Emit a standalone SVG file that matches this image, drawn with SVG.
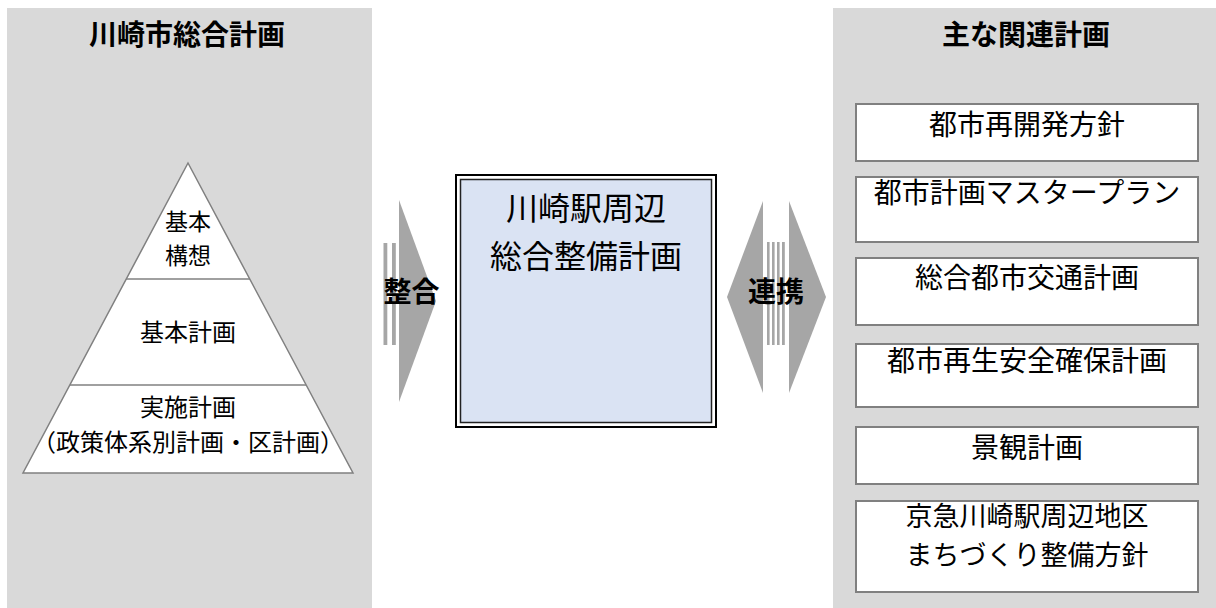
<svg xmlns="http://www.w3.org/2000/svg" width="1216" height="608" viewBox="0 0 1216 608">
<style>
text{font-family:"Noto Sans CJK JP","Noto Sans",sans-serif;fill:#000;text-anchor:middle}
.title{font-size:28px;font-weight:bold}
.pyr{font-size:24px}
.pyr-s{font-size:23px}
.main{font-size:32px}
.rel{font-size:28px}
.rel-s{font-size:27px}
.lbl{font-size:28px;font-weight:bold}
.panel{fill:#d9d9d9}
.box{fill:#fff;stroke:#808080;stroke-width:2}
.tri{fill:#fff;stroke:#808080;stroke-width:1.5}
.arr{fill:#a6a6a6}
</style>
<rect width="1216" height="608" fill="#fff"/>
<g id="left-panel">
<rect class="panel" x="7" y="8" width="365" height="600"/>
<text class="title" x="187" y="45">川崎市総合計画</text>
</g>
<g id="right-panel">
<rect class="panel" x="833" y="8" width="383" height="600"/>
<text class="title" x="1026" y="45">主な関連計画</text>
</g>
<g id="pyramid">
<polygon class="tri" points="188,163 353,473 23,473"/>
<line class="tri" x1="126" y1="279" x2="250" y2="279"/>
<line class="tri" x1="70" y1="385" x2="306" y2="385"/>
<text class="pyr-s" x="188" y="230">基本</text>
<text class="pyr-s" x="188" y="264">構想</text>
<text class="pyr" x="188" y="341">基本計画</text>
<text class="pyr" x="188" y="416">実施計画</text>
<text class="pyr" x="188" y="451">（政策体系別計画・区計画）</text>
</g>
<g id="connectors">
<g id="arrow-seigo">
<polygon class="arr" points="399,200 436,301 399,402"/>
<rect class="arr" x="383.5" y="243" width="3.8" height="102"/>
<rect class="arr" x="392" y="243" width="3.8" height="102"/>
<text class="lbl" x="411.5" y="302">整合</text>
</g>
<g id="arrow-renkei">
<polygon class="arr" points="763,201 727,297 763,393"/>
<polygon class="arr" points="789,201 826,297 789,393"/>
<rect class="arr" x="767" y="242" width="2.6" height="103"/>
<rect class="arr" x="772" y="242" width="2.6" height="103"/>
<rect class="arr" x="777" y="242" width="2.6" height="103"/>
<rect class="arr" x="782" y="242" width="2.8" height="103"/>
<text class="lbl" x="776" y="302">連携</text>
</g>
</g>
<g id="main-plan">
<rect x="456" y="175" width="260" height="252" fill="#fff" stroke="#000" stroke-width="2"/>
<rect x="460.5" y="179.5" width="251" height="243" fill="#dae3f3" stroke="#222" stroke-width="1.5"/>
<text class="main" x="586" y="220">川崎駅周辺</text>
<text class="main" x="586" y="268">総合整備計画</text>
</g>
<g id="rel1"><rect class="box" x="856" y="104" width="342" height="57"/><text class="rel" x="1027" y="135">都市再開発方針</text></g>
<g id="rel2"><rect class="box" x="856" y="177" width="342" height="65"/><text class="rel" x="1027" y="203">都市計画マスタープラン</text></g>
<g id="rel3"><rect class="box" x="856" y="258" width="342" height="67"/><text class="rel" x="1027" y="288">総合都市交通計画</text></g>
<g id="rel4"><rect class="box" x="856" y="344" width="342" height="63"/><text class="rel" x="1027" y="371">都市再生安全確保計画</text></g>
<g id="rel5"><rect class="box" x="856" y="427" width="342" height="57"/><text class="rel" x="1027" y="458">景観計画</text></g>
<g id="rel6"><rect class="box" x="856" y="501" width="342" height="91"/><text class="rel-s" x="1027" y="526">京急川崎駅周辺地区</text><text class="rel-s" x="1027" y="565">まちづくり整備方針</text></g>
</svg>
